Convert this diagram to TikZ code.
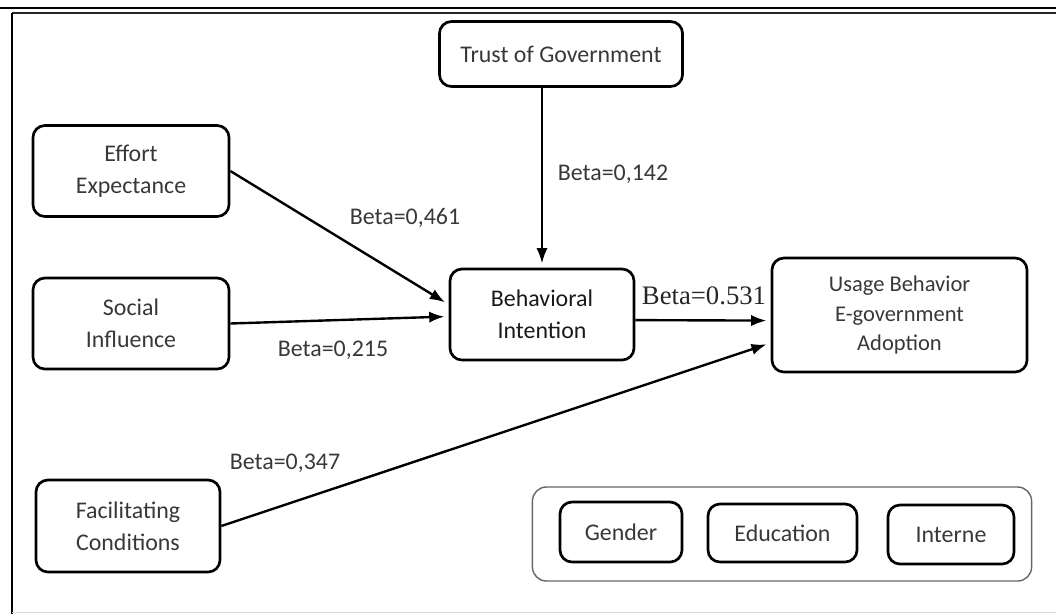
\documentclass[tikz,border=0pt]{standalone}
\usepackage{fontspec}
\setmainfont{Carlito}
\newfontfamily\timesfont{Liberation Serif}
\usepackage{tikz}
\usetikzlibrary{arrows.meta}
\tikzset{>={Latex[length=3.8mm,width=2.8mm]}}
\definecolor{txt}{HTML}{383838}
\tikzstyle{var} = [draw=black, line width=1.9pt, rounded corners=0.3cm,
    align=center, text=txt, font=\fontsize{17}{22.5}\selectfont, inner sep=2pt]
\tikzstyle{modbox} = [draw=black!60, line width=1pt, rounded corners=0.35cm]
\tikzstyle{beta} = [text=txt, font=\fontsize{17}{20}\selectfont, inner sep=1pt]
\tikzstyle{path} = [->, line width=1.7pt, shorten >=3pt]

\begin{document}
\begin{tikzpicture}[x=0.025cm, y=-0.025cm]
    \useasboundingbox (0,0) rectangle (1056,614);
    %frame
    \draw[line width=1.4pt] (0,8) -- (1056,8);
    \draw[line width=1.8pt, black!85] (12,13) -- (1056,13);
    \draw[line width=1.6pt] (12,13) -- (12,614);
    \draw[line width=0.6pt, black!15] (12,612) -- (1056,612);
    %variables
    \node[var, minimum width=6.075cm, minimum height=1.625cm] (trust) at (561,54) {Trust of Government};
    \node[var, minimum width=4.9cm, minimum height=2.275cm] (effort) at (131,171) {Effort\\Expectance};
    \node[var, minimum width=4.9cm, minimum height=2.275cm] (social) at (131,323.5) {Social\\Influence};
    \node[var, minimum width=4.6cm, minimum height=2.3cm] (facil) at (128,526) {Facilitating\\Conditions};
    \node[var, minimum width=4.6cm, minimum height=2.275cm, text=black!90] (intent) at (542,314.5) {Behavioral\\Intention};
    \node[var, minimum width=6.375cm, minimum height=2.85cm, font=\fontsize{16}{21}\selectfont] (usage) at (899.5,315) {Usage Behavior\\E-government\\Adoption};
    %moderators
    \node[modbox, minimum width=12.475cm, minimum height=2.35cm] (mods) at (782,534) {};
    \node[var, minimum width=3.05cm, minimum height=1.5cm] (gender) at (621,532) {Gender};
    \node[var, minimum width=3.725cm, minimum height=1.45cm] (edu) at (782.5,533) {Education};
    \node[var, minimum width=3.15cm, minimum height=1.475cm] (internet) at (951,534.5) {Interne};
    %paths
    \draw[path] (intent.north |- trust.south) -- (intent.north);
    \draw[path] (effort.east) -- ([yshift=0.25cm]intent.west);
    \draw[path] (social.east) -- ([yshift=-0.05cm]intent.west);
    \draw[path] ([yshift=-0.14cm]intent.east) -- ([yshift=-0.14cm]usage.west);
    \draw[path] (facil.east) -- ([yshift=-0.7cm]usage.west);
    %labels
    \node[beta] (b142) at (613,174) {Beta=0,142};
    \node[beta] (b461) at (405,218) {Beta=0,461};
    \node[beta] (b215) at (333,350) {Beta=0,215};
    \node[beta, text=black!85, font=\timesfont\fontsize{19}{22}\selectfont] (b531) at (704,296) {Beta=0.531};
    \node[beta] (b347) at (285,463) {Beta=0,347};
\end{tikzpicture}
\end{document}
